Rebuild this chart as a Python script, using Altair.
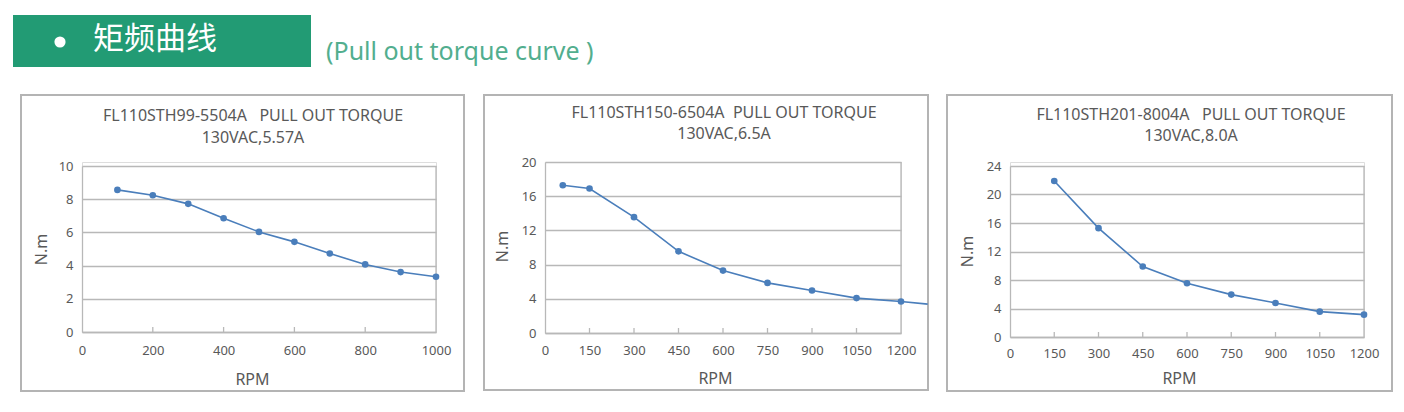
import altair as alt
import pandas as pd

# ---------------- data ----------------
rpm1 = [100, 200, 300, 400, 500, 600, 700, 800, 900, 1000]
tq1 = [8.56, 8.24, 7.72, 6.85, 6.03, 5.43, 4.73, 4.07, 3.61, 3.33]

rpm2 = [60, 150, 300, 450, 600, 750, 900, 1050, 1200]
tq2 = [17.28, 16.9, 13.55, 9.55, 7.3, 5.86, 4.97, 4.08, 3.69]
rpm2_tail = [1290]
tq2_tail = [3.38]

rpm3 = [150, 300, 450, 600, 750, 900, 1050, 1200]
tq3 = [21.9, 15.28, 9.89, 7.55, 5.95, 4.78, 3.56, 3.14]

xt1 = [0, 200, 400, 600, 800, 1000]
yt1 = [0, 2, 4, 6, 8, 10]
xt2 = [0, 150, 300, 450, 600, 750, 900, 1050, 1200]
yt2 = [0, 4, 8, 12, 16, 20]
xt3 = [0, 150, 300, 450, 600, 750, 900, 1050, 1200]
yt3 = [0, 4, 8, 12, 16, 20, 24]

NB = "\u00a0"
titles1 = ["FL110STH99-5504A" + NB * 3 + "PULL OUT TORQUE", "130VAC,5.57A"]
titles2 = ["FL110STH150-6504A" + NB * 2 + "PULL OUT TORQUE", "130VAC,6.5A"]
titles3 = ["FL110STH201-8004A" + NB * 3 + "PULL OUT TORQUE", "130VAC,8.0A"]

header_cn = "矩频曲线"
header_en = "(Pull out torque curve )"

# ---------------- style ----------------
FONT = "Noto Sans"
GRAY = "#595959"
LINE = "#4a7ebb"
GRID = "#b8b8b8"
FRAME = "#b4b4b4"
GREEN = "#229b74"
TEAL = "#52ae8e"

one = pd.DataFrame({"k": [0]})


def panel(xs, ys, lxs, lys, xdom, xticks, ydom, yticks, w, h, top, frame,
          titles, tx, ty, ytitle, xtitle, xlabpad, extra=None):
    pts = pd.DataFrame({"rpm": xs, "tq": ys})
    ln = pd.DataFrame({"rpm": lxs, "tq": lys})
    tk = pd.DataFrame({"rpm": [v for v in xticks if xdom[0] < v < xdom[1]]})
    xaxis = alt.Axis(values=xticks, format="d", grid=False,
                     ticks=False, domainColor=GRID, domainWidth=1.3,
                     labelColor=GRAY, labelFont=FONT,
                     labelFontSize=13, labelPadding=xlabpad,
                     labelFlush=False, labelOverlap=False,
                     title="RPM", titleFont=FONT, titleFontSize=16,
                     titleFontWeight="normal", titleColor=GRAY,
                     titleX=xtitle[0], titleY=xtitle[1],
                     titleAlign="center", titleBaseline="middle")
    yaxis = alt.Axis(values=yticks, format="d", grid=True,
                     gridColor=GRID, gridWidth=1.3, ticks=False,
                     domainColor=GRID, domainWidth=1.3,
                     labelColor=GRAY, labelFont=FONT,
                     labelFontSize=13, labelPadding=9,
                     labelOverlap=False, labelFlush=False,
                     labelBound=False,
                     title="N.m", titleFont=FONT, titleFontSize=16,
                     titleFontWeight="normal", titleColor=GRAY,
                     titleX=ytitle[0], titleY=ytitle[1],
                     titleAngle=270, titleAlign="center",
                     titleBaseline="middle")
    xscale = alt.Scale(domain=xdom, nice=False, zero=False)
    yscale = alt.Scale(domain=ydom, nice=False, range=[h, top])
    xenc = alt.X("rpm:Q", scale=xscale, axis=xaxis)
    yenc = alt.Y("tq:Q", scale=yscale, axis=yaxis)

    frame_l = alt.Chart(one).mark_rect(
        fillOpacity=0, stroke=FRAME, strokeWidth=2, clip=False
    ).encode(x=alt.value(frame[0]), x2=alt.value(frame[1]),
             y=alt.value(frame[2]), y2=alt.value(frame[3]))
    border_l = alt.Chart(one).mark_rule(color=GRID, strokeWidth=1.3).encode(
        x=alt.X("xb:Q", scale=xscale, axis=xaxis),
        y=alt.Y("y0:Q", scale=yscale, axis=yaxis),
        y2="y1:Q",
    ).transform_calculate(xb=str(xdom[1]), y0=str(ydom[0]), y1=str(ydom[1]))
    tick_l = alt.Chart(tk).mark_rule(color=GRID, strokeWidth=1.3).encode(
        x=xenc, y=alt.value(h), y2=alt.value(h - 5))
    line_l = alt.Chart(ln).mark_line(color=LINE, strokeWidth=1.6,
                                     clip=False).encode(x=xenc, y=yenc)
    pt_l = alt.Chart(pts).mark_circle(color=LINE, size=44,
                                      opacity=1).encode(x=xenc, y=yenc)
    t_layers = []
    for txt, yy in zip(titles, ty):
        t_layers.append(
            alt.Chart(one).mark_text(text=txt, font=FONT, fontSize=16,
                                     color=GRAY, align="center",
                                     baseline="middle").encode(
                x=alt.value(tx), y=alt.value(yy)))
    layers = [frame_l, border_l, tick_l, line_l, pt_l] + t_layers + (extra or [])
    return alt.layer(*layers).properties(width=w, height=h)


# ---------------- header (drawn in the first panel's frame of reference) --
hbox = alt.Chart(one).mark_rect(color=GREEN, clip=False).encode(
    x=alt.value(-69), x2=alt.value(229), y=alt.value(-147), y2=alt.value(-95))
hdot = alt.Chart(one).mark_circle(color="white", size=125, opacity=1,
                                  clip=False).encode(
    x=alt.value(-22), y=alt.value(-120))
htxt = alt.Chart(one).mark_text(text=header_cn, font="Noto Sans CJK SC",
                                fontSize=31, color="white", align="left",
                                baseline="middle").encode(
    x=alt.value(11), y=alt.value(-122))
hsub = alt.Chart(one).mark_text(text=header_en, font=FONT, fontSize=25,
                                color=TEAL, align="left",
                                baseline="alphabetic").encode(
    x=alt.value(244), y=alt.value(-102))

p1 = panel(rpm1, tq1, rpm1, tq1, [0, 1000], xt1, [0, 10], yt1, 354, 170, 4,
           (-61, 382, -67, 229), titles1, 171, (-46, -24),
           (-41, 87), (170, 47), 12, extra=[hbox, hdot, htxt, hsub])
p2 = panel(rpm2, tq2, rpm2 + rpm2_tail, tq2 + tq2_tail, [0, 1200], xt2,
           [0, 20], yt2, 356, 171, 0, (-61, 383, -67, 228), titles2, 179,
           (-49, -28), (-43, 84), (170, 45), 11)
p3 = panel(rpm3, tq3, rpm3, tq3, [0, 1200], xt3, [0, 24], yt3, 354, 175, 4,
           (-63, 382, -67, 229), titles3, 181, (-47, -26),
           (-43, 89), (169, 41), 10)

chart = alt.hconcat(p1, p2, p3, spacing=109, bounds="flush").properties(
    padding={"left": 4, "top": 6, "right": 0, "bottom": 0}
).configure_view(stroke="transparent").configure(background="white")

chart.save("out.html", embed_options={"renderer": "svg", "actions": False})
